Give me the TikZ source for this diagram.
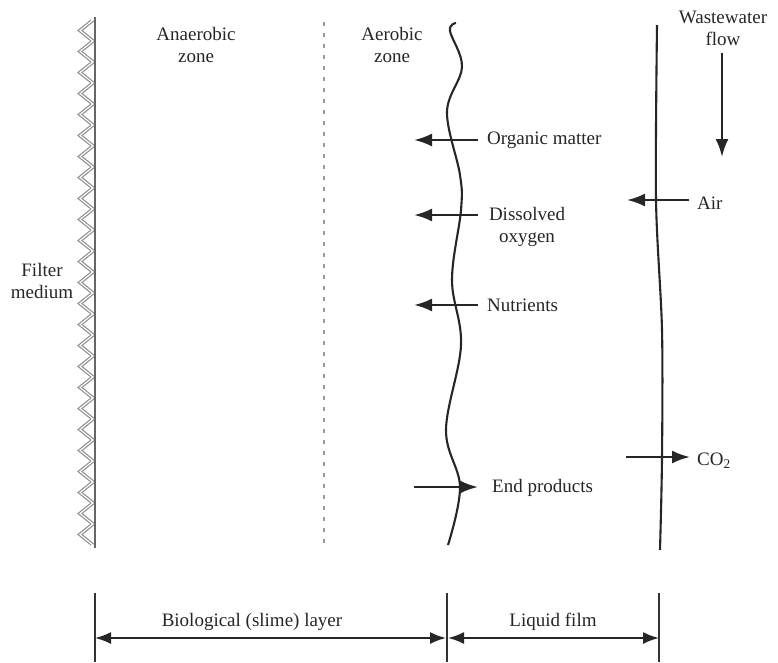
\documentclass[tikz,border=0pt]{standalone}
\usepackage{fontspec}
\setmainfont{Liberation Serif}
\usetikzlibrary{arrows.meta}
\tikzset{
  lbl/.style={text=black!85, font=\fontsize{19}{22}\selectfont, inner sep=0pt, align=center},
  mainline/.style={line width=2.1pt, black!85},
  flowarrow/.style={line width=2.4pt, black!85, -{Latex[length=18pt,width=13pt]}},
  dimarrow/.style={line width=1.9pt, black!85, {Latex[length=16pt,width=12pt]}-{Latex[length=16pt,width=12pt]}},
  tick/.style={line width=1.8pt, black!80},
  hatch/.style={line width=1pt, black!45}
}
\begin{document}
\begin{tikzpicture}[x=1pt,y=-1pt]
\useasboundingbox (0,0) rectangle (778,662);
\fill[white] (0,0) rectangle (778,662);

% filter medium wall with hatching
\foreach \yy in {20,41,...,530}{
  \draw[hatch] (95,\yy) -- (82,\yy+10.5) -- (95,\yy+21);
  \draw[hatch] (91,\yy) -- (78,\yy+10.5) -- (91,\yy+21);
}
\coordinate (wallT) at (95,17);
\coordinate (wallB) at (95,548);
\draw[line width=1.6pt, black!60] (wallT) -- (wallB);

% dotted boundary between anaerobic and aerobic zone
\coordinate (dotT) at (324,22);
\coordinate (dotB) at (324,545);
\draw[line width=1.4pt, black!40, dash pattern=on 4pt off 7pt] (dotT) -- (dotB);

% wavy biofilm surface
\draw[mainline] plot[smooth, tension=0.6] coordinates {(456,23) (450,31) (462,67) (447,112) (460,175) (461,210) (452,280) (461,345) (446,430) (460,487) (448,545)};

% liquid film surface
\draw[mainline] plot[smooth] coordinates {(657,25) (656,200) (662,330) (662,458) (660,550)};

% labels
\node[lbl] (anaer) at (196,45) {Anaerobic\\zone};
\node[lbl] (aer) at (392,45) {Aerobic\\zone};
\node[lbl] (waste) at (723,28) {Wastewater\\flow};
\node[lbl] (filter) at (42,281) {Filter\\medium};

\node[lbl, anchor=west] (organic) at (487,140) {Organic matter};
\node[lbl] (dissolved) at (527,227) {Dissolved\\oxygen};
\node[lbl, anchor=west] (nutr) at (487,305) {Nutrients};
\node[lbl, anchor=west] (air) at (697,203) {Air};
\node[lbl, anchor=west] (co2) at (697,461) {CO\textsubscript{2}};
\node[lbl, anchor=west] (endp) at (492,488) {End products};

% flow arrows
\coordinate (orgE) at (414,140);
\coordinate (disE) at (414,215);
\coordinate (nutE) at (414,305);
\coordinate (airE) at (627,200);
\coordinate (co2S) at (626,457);
\coordinate (endS) at (414,487);
\coordinate (wfS) at (722,53);
\coordinate (wfE) at (722,157);

\draw[flowarrow] (478,140) -- (orgE);
\draw[flowarrow] (478,215) -- (disE);
\draw[flowarrow] (478,305) -- (nutE);
\draw[flowarrow] (689,200) -- (airE);
\draw[flowarrow] (co2S) -- (690,457);
\draw[flowarrow] (endS) -- (478,487);
\draw[flowarrow] (wfS) -- (wfE);

% dimension lines
\coordinate (t1a) at (95,593);  \coordinate (t1b) at (95,662);
\coordinate (t2a) at (447,593); \coordinate (t2b) at (447,662);
\coordinate (t3a) at (659,593); \coordinate (t3b) at (659,662);
\draw[tick] (t1a) -- (t1b);
\draw[tick] (t2a) -- (t2b);
\draw[tick] (t3a) -- (t3b);
\coordinate (d1a) at (95,638);  \coordinate (d1b) at (446,638);
\coordinate (d2a) at (448,638); \coordinate (d2b) at (659,638);
\draw[dimarrow] (d1a) -- (d1b);
\draw[dimarrow] (d2a) -- (d2b);
\node[lbl] (bio) at (252,622) {Biological (slime) layer};
\node[lbl] (liq) at (553,622) {Liquid film};
\end{tikzpicture}
\end{document}
